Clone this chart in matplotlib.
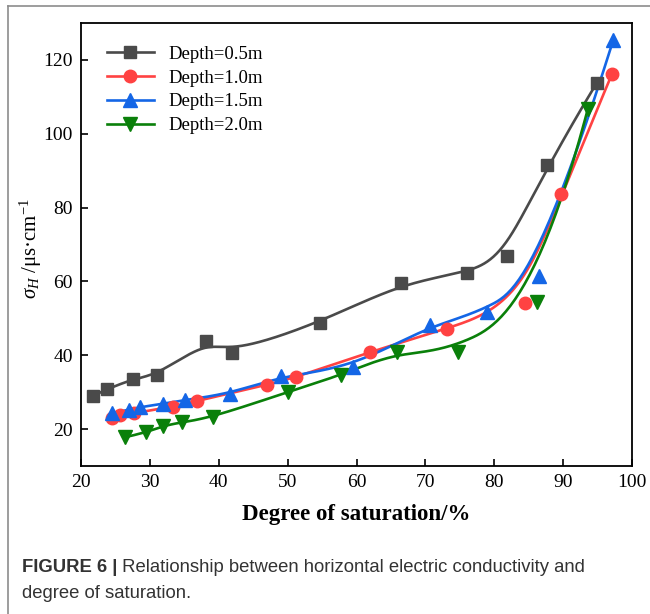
import numpy as np
import matplotlib
matplotlib.use('Agg')
import matplotlib.pyplot as plt
from matplotlib.lines import Line2D

plt.rcParams['font.family'] = 'Liberation Serif'
plt.rcParams['mathtext.fontset'] = 'custom'
plt.rcParams['mathtext.rm'] = 'Liberation Serif'
plt.rcParams['mathtext.it'] = 'Liberation Serif:italic'

# --- data ---
d05_x = [21.7, 23.8, 27.5, 31.1, 38.2, 41.9, 54.7, 66.4, 76.1, 81.8, 87.6, 94.9]
d05_y = [29.0, 30.8, 33.7, 34.6, 43.9, 40.7, 48.8, 59.5, 62.4, 66.8, 91.4, 113.8]

d10_x = [24.5, 25.6, 27.7, 33.4, 36.8, 47.0, 51.2, 61.9, 73.1, 84.4, 89.7, 97.1]
d10_y = [22.9, 23.8, 24.3, 26.1, 27.6, 32.0, 34.0, 40.9, 47.2, 54.2, 83.6, 116.2]

d15_x = [24.5, 26.9, 28.6, 31.9, 35.1, 41.7, 49.1, 59.5, 70.6, 79.0, 86.5, 97.3]
d15_y = [24.3, 25.2, 26.0, 26.8, 27.9, 29.6, 34.4, 36.7, 48.2, 51.8, 61.5, 125.5]

d20_x = [26.4, 29.5, 31.9, 34.6, 39.1, 50.1, 57.8, 65.9, 74.8, 86.2, 93.6]
d20_y = [17.8, 19.1, 20.9, 21.8, 23.2, 30.1, 34.6, 41.0, 40.8, 54.5, 106.8]

labels = ['Depth=0.5m', 'Depth=1.0m', 'Depth=1.5m', 'Depth=2.0m']
colors = ['#4a4a4a', '#ff4242', '#1466e6', '#0a800a']
markers = ['s', 'o', '^', 'v']
msizes = [8, 9, 10, 10]


def bspline(x, y, n=400, k=3):
    # clamped B-spline using the points as control points (Origin-style smoothing)
    P = np.column_stack([x, y])
    m = len(P)
    k = min(k, m - 1)
    t = np.concatenate([np.zeros(k), np.linspace(0, 1, m - k + 1), np.ones(k)])
    u = np.linspace(0, 1, n)
    nb = len(t) - 1
    B = np.zeros((n, nb))
    for i in range(nb):
        B[:, i] = (t[i] <= u) & (u < t[i + 1])
    last = np.max(np.nonzero(t[:-1] < t[1:])[0])
    B[u >= t[-1], last] = 1
    for d in range(1, k + 1):
        nb -= 1
        Bn = np.zeros((n, nb))
        for i in range(nb):
            a = t[i + d] - t[i]
            b = t[i + d + 1] - t[i + 1]
            term = np.zeros(n)
            if a > 0:
                term += (u - t[i]) / a * B[:, i]
            if b > 0:
                term += (t[i + d + 1] - u) / b * B[:, i + 1]
            Bn[:, i] = term
        B = Bn
    C = B @ P
    return C[:, 0], C[:, 1]


fig = plt.figure(figsize=(6.5, 6.14), dpi=100)
ax = fig.add_axes([81 / 650, 1 - 466 / 614, 551 / 650, 443 / 614])

series = [(d05_x, d05_y), (d10_x, d10_y), (d15_x, d15_y), (d20_x, d20_y)]
handles = []
for (xs, ys), lab, c, mk, ms in zip(series, labels, colors, markers, msizes):
    sx, sy = bspline(xs, ys)
    ax.plot(sx, sy, color=c, lw=1.9, zorder=2)
    ax.plot(xs, ys, ls='none', marker=mk, ms=ms, color=c, mec=c, zorder=3)
    handles.append(Line2D([], [], color=c, lw=1.9, marker=mk, ms=ms, mec=c, label=lab))

ax.set_xlim(20, 100)
ax.set_ylim(10, 130)
ax.set_xticks(np.arange(20, 101, 10))
ax.set_yticks(np.arange(20, 121, 20))
ax.tick_params(direction='in', length=5, width=1.2, labelsize=14, pad=6)
for s in ax.spines.values():
    s.set_linewidth(1.3)

ax.set_xlabel('Degree of saturation/%', fontsize=16.5, fontweight='bold', labelpad=9)
ax.set_ylabel(r'$\sigma_H$ /μs·cm$^{\mathregular{-1}}$', fontsize=15)
ax.yaxis.set_label_coords(-0.068, 0.49)

ax.legend(handles=handles, loc='upper left', frameon=False, fontsize=13.5,
          handlelength=2.5, borderaxespad=0.4, labelspacing=0.36,
          bbox_to_anchor=(0.02, 0.983))

# caption
cap_col = '#333333'
t1 = fig.text(22 / 650, 1 - 567 / 614, 'FIGURE 6 |', fontsize=13.3, fontweight='bold',
              family='Liberation Sans', color=cap_col, va='center')
fig.add_artist(plt.Annotation(' Relationship between horizontal electric conductivity and',
                              xy=(1, 0), xycoords=t1, va='bottom', fontsize=13.3,
                              family='Liberation Sans', color=cap_col))
fig.text(22 / 650, 1 - 594 / 614, 'degree of saturation.', fontsize=13.3,
         family='Liberation Sans', color=cap_col, va='center')

# frame around the figure (top and left edges)
fig.add_artist(Line2D([8 / 650, 1], [1 - 6 / 614, 1 - 6 / 614], color='#8c8c8c', lw=1.2))
fig.add_artist(Line2D([8 / 650, 8 / 650], [0, 1 - 6 / 614], color='#8c8c8c', lw=1.2))

fig.savefig('out.png', dpi=100)
